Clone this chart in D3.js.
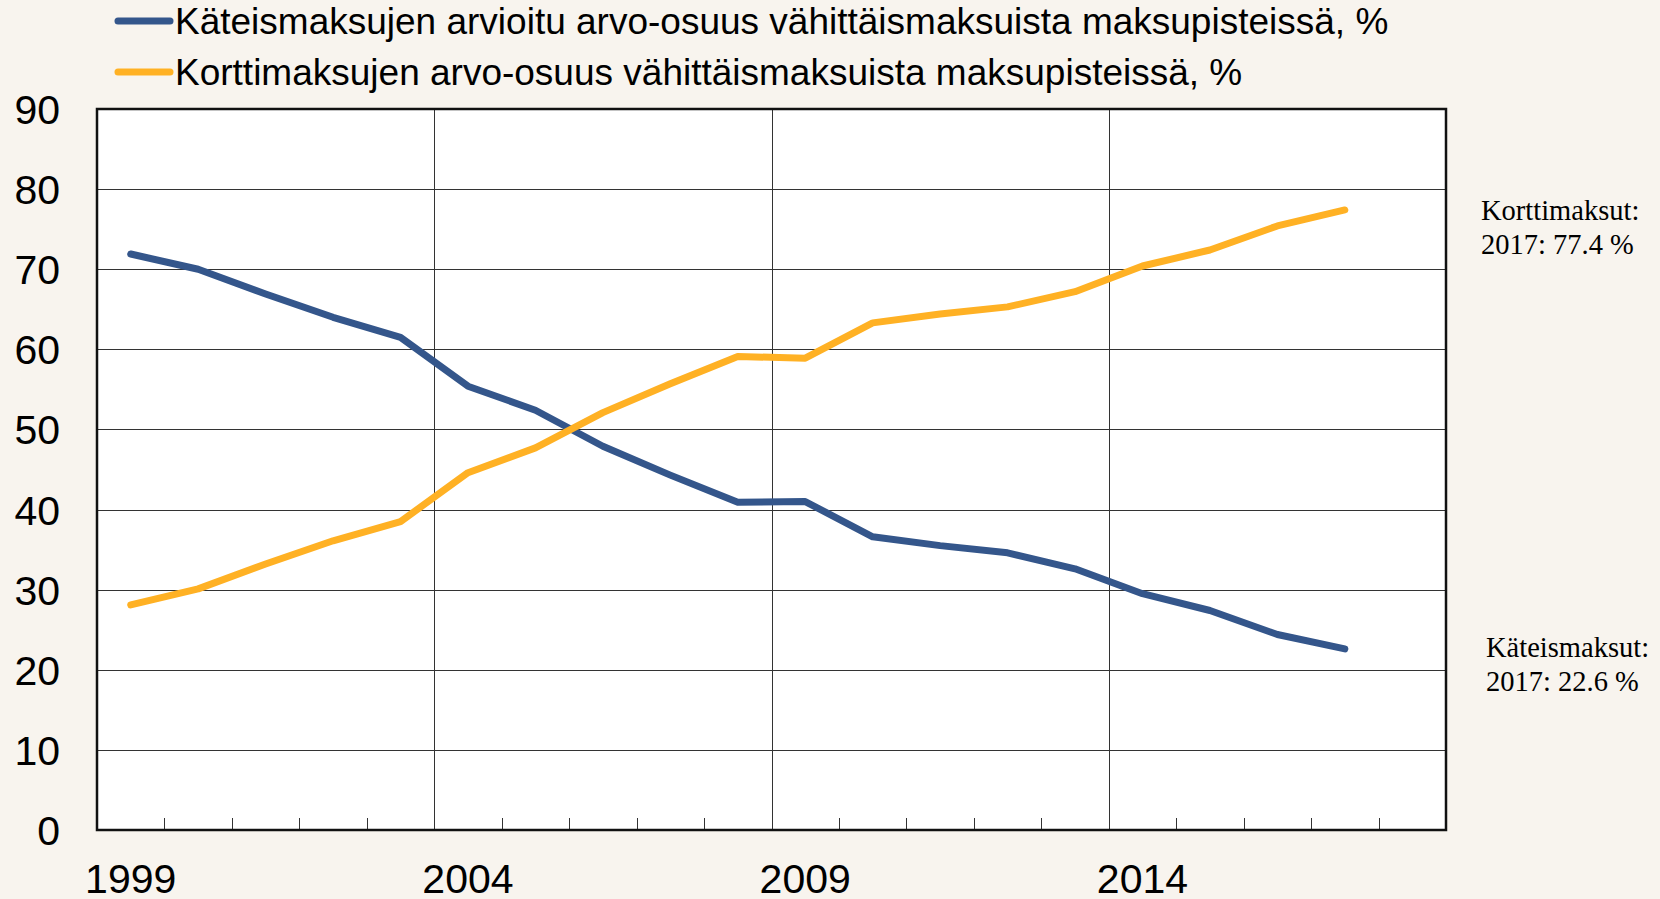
<!DOCTYPE html>
<html>
<head>
<meta charset="utf-8">
<script src="https://cdn.jsdelivr.net/npm/d3@7"></script>
<style>
    html, body { margin: 0; padding: 0; background: #f8f4ee; }
    svg { display: block; }
    .tick-label { font-family: "Liberation Sans", Arial, sans-serif; fill: #000; }
    .note { font-family: "Liberation Serif", "Times New Roman", serif; fill: #000; }
</style>
</head>
<body>
<svg id="chart" width="1660" height="899"></svg>
<script>
// categories: one per year, 2018 is an empty slot at the end like in the original
var years = [1999, 2000, 2001, 2002, 2003, 2004, 2005, 2006, 2007, 2008,
             2009, 2010, 2011, 2012, 2013, 2014, 2015, 2016, 2017, 2018];
var cashShare = [71.9, 70.0, 66.9, 64.0, 61.5, 55.4, 52.4, 47.9, 44.3, 40.9,
                 41.0, 36.6, 35.5, 34.6, 32.6, 29.5, 27.4, 24.4, 22.6];
var cardShare = [28.1, 30.1, 33.2, 36.1, 38.5, 44.6, 47.7, 52.1, 55.7, 59.1,
                 58.9, 63.3, 64.4, 65.3, 67.2, 70.4, 72.4, 75.4, 77.4];
var yTicks = [0, 10, 20, 30, 40, 50, 60, 70, 80, 90];
var xLabels = [1999, 2004, 2009, 2014];
var seriesNames = [
    'Käteismaksujen arvioitu arvo-osuus vähittäismaksuista maksupisteissä, %',
    'Korttimaksujen arvo-osuus vähittäismaksuista maksupisteissä, %'
];
var noteNames = ['Käteismaksut:', 'Korttimaksut:'];

var blue = '#34568b', orange = '#ffb124';

var svg = d3.select('#chart');
var plot = { left: 97, right: 1446, top: 109, bottom: 830 };

var x = d3.scaleBand().domain(years).range([plot.left, plot.right]).padding(0);
var y = d3.scaleLinear().domain([0, 90]).range([plot.bottom, plot.top]);

function cx(yr) { return x(yr) + x.bandwidth() / 2; }

// plot background
svg.append('rect')
    .attr('x', plot.left).attr('y', plot.top)
    .attr('width', plot.right - plot.left).attr('height', plot.bottom - plot.top)
    .attr('fill', '#fff');

// horizontal grid
svg.append('g').selectAll('line')
    .data(yTicks.filter(function(d) { return d > 0 && d < 90; }))
    .join('line')
    .attr('x1', plot.left).attr('x2', plot.right)
    .attr('y1', function(d) { return Math.round(y(d)) + 0.5; })
    .attr('y2', function(d) { return Math.round(y(d)) + 0.5; })
    .attr('stroke', '#333').attr('stroke-width', 1);

// vertical grid at the labelled years
svg.append('g').selectAll('line')
    .data(xLabels.slice(1))
    .join('line')
    .attr('x1', function(d) { return Math.round(x(d)) + 0.5; })
    .attr('x2', function(d) { return Math.round(x(d)) + 0.5; })
    .attr('y1', plot.top).attr('y2', plot.bottom)
    .attr('stroke', '#333').attr('stroke-width', 1);

// small ticks on the year boundaries
svg.append('g').selectAll('line')
    .data(years.slice(1))
    .join('line')
    .attr('x1', function(d) { return Math.round(x(d)) + 0.5; })
    .attr('x2', function(d) { return Math.round(x(d)) + 0.5; })
    .attr('y1', plot.bottom - 12).attr('y2', plot.bottom)
    .attr('stroke', '#333').attr('stroke-width', 1);

// frame
svg.append('rect')
    .attr('x', plot.left).attr('y', plot.top)
    .attr('width', plot.right - plot.left).attr('height', plot.bottom - plot.top)
    .attr('fill', 'none').attr('stroke', '#111').attr('stroke-width', 2.5);

// y labels
svg.append('g').selectAll('text')
    .data(yTicks)
    .join('text')
    .attr('class', 'tick-label')
    .attr('x', 60)
    .attr('y', function(d) { return y(d) + 15; })
    .attr('text-anchor', 'end')
    .style('font-size', '41px')
    .text(function(d) { return d; });

// x labels (the original crops them at the bottom edge too)
svg.append('g').selectAll('text')
    .data(xLabels)
    .join('text')
    .attr('class', 'tick-label')
    .attr('x', function(d) { return cx(d); })
    .attr('y', 893)
    .attr('text-anchor', 'middle')
    .style('font-size', '41px')
    .text(function(d) { return d; });

// lines
var line = d3.line()
    .x(function(d, i) { return cx(years[i]); })
    .y(function(d) { return y(d); });

[[cashShare, blue], [cardShare, orange]].forEach(function(s) {
    svg.append('path')
        .datum(s[0])
        .attr('d', line)
        .attr('fill', 'none')
        .attr('stroke', s[1])
        .attr('stroke-width', 7)
        .attr('stroke-linejoin', 'round')
        .attr('stroke-linecap', 'round');
});

// legend
var legend = svg.append('g');
seriesNames.forEach(function(name, i) {
    var ly = 21 + i * 51;
    legend.append('line')
        .attr('x1', 118).attr('x2', 170).attr('y1', ly).attr('y2', ly)
        .attr('stroke', i == 0 ? blue : orange)
        .attr('stroke-width', 7)
        .attr('stroke-linecap', 'round');
    legend.append('text')
        .attr('class', 'tick-label')
        .attr('x', 175).attr('y', ly + 13)
        .style('font-size', '37px')
        .text(name);
});

// end value notes on the right
var last = cashShare.length - 1;
var notes = [
    { name: noteNames[1], value: cardShare[last], x: 1481, y: 220 },
    { name: noteNames[0], value: cashShare[last], x: 1486, y: 657 }
];
notes.forEach(function(n) {
    var t = svg.append('text').attr('class', 'note').style('font-size', '28.5px');
    t.append('tspan').attr('x', n.x).attr('y', n.y).text(n.name);
    t.append('tspan').attr('x', n.x).attr('y', n.y + 34)
        .text(years[last] + ': ' + n.value.toFixed(1) + ' %');
});
</script>
</body>
</html>
